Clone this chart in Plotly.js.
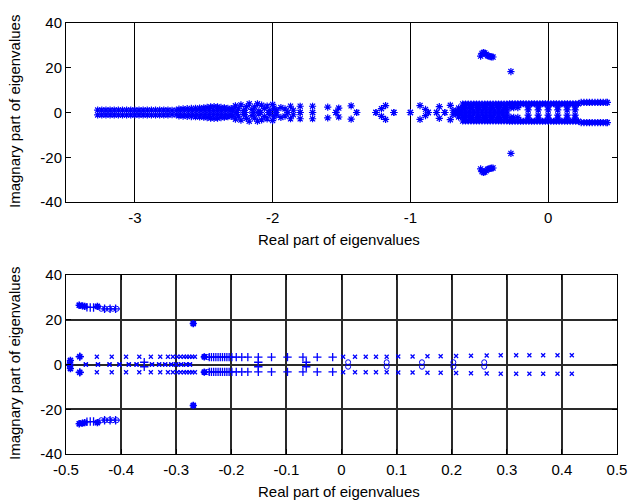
<!DOCTYPE html>
<html>
<head>
<meta charset="utf-8">
<script src="https://cdn.plot.ly/plotly-3.0.1.min.js"></script>
<style>html,body{margin:0;padding:0;background:#fff;}#chart{width:644px;height:504px;}</style>
</head>
<body>
<div id="chart"></div>
<script>
// ---------- Top panel: eigenvalue loci (real part, |imag part|) ----------
const leftRe = [-3.27,-3.24,-3.21,-3.18,-3.15,-3.12,-3.09,-3.06,-3.03,-3.00,-2.97,-2.94,-2.91,-2.88,-2.85,-2.82,-2.79,-2.76,-2.73,-2.70,-2.67,-2.64,-2.61,-2.58,-2.55,-2.52,-2.49,-2.46,-2.43,-2.40,-2.37,-2.34,-2.31];
const leftIm = [1.1,1.1,1.1,1.1,1.1,1.1,1.1,1.1,1.1,1.1,1.1,1.1,1.1,1.1,1.1,1.1,1.1,1.1,1.0,1.0,1.0,1.0,0.9,0.9,0.9,0.9,0.8,0.8,0.8,0.8,0.8,0.9,1.0];
const fanRe = [-2.68,-2.65,-2.62,-2.59,-2.56,-2.53,-2.50,-2.475,-2.45,-2.425,-2.40,-2.375,-2.35,-2.325,-2.30];
const fanIm = [1.5,1.6,1.7,1.8,1.9,2.0,2.1,2.3,2.5,2.6,2.5,2.3,2.1,1.9,1.7];
const clusterRe = [-2.29,-2.27,-2.25,-2.23,-2.21,-2.19,-2.17,-2.15,-2.13,-2.11,-2.10,-2.08,-2.06,-2.04,-2.02,-2.00,-1.99,-1.97,-2.26,-2.20,-2.14,-2.09,-2.03,-1.98];
const clusterIm = [1.2,3.0,1.6,3.4,0.9,2.6,3.9,1.4,2.5,3.9,0.6,3.3,1.8,2.9,0.8,3.6,2.0,1.0,0,0,0,0,0,0];
const scatterRe = [-1.94,-1.91,-1.89,-1.87,-1.85,-1.80,-1.80,-1.71,-1.71,-1.60,-1.54,-1.52,-1.43,-1.39,-1.25,-1.21,-1.18,-1.12,-1.00,-0.93,-0.89,-0.87,-0.81,-0.79,-0.75,-0.71,-0.69,-0.67,-0.65,-0.64];
const scatterIm = [2.2,1.6,0,2.8,1.0,2.8,0,2.8,0,2.4,0,2.0,3.0,0,0,1.7,3.1,0,0,3.1,1.4,0,0,2.6,0,3.2,1.0,0,2.0,0.9];
const bandRe = [-0.62,-0.60,-0.58,-0.56,-0.54,-0.52,-0.50,-0.48,-0.46,-0.44,-0.42,-0.40,-0.38,-0.36,-0.34,-0.32,-0.30,-0.28,-0.26,-0.24,-0.22,-0.20,-0.18,-0.16,-0.14,-0.12,-0.10,-0.08,-0.06,-0.04,-0.02,0.00,0.02,0.04,0.06,0.08,0.10,0.12,0.14,0.16,0.18,0.20,0.22,0.24,0.26,0.28,0.30,0.32,0.34,0.36,0.38,0.40,0.42,0.43];
const bandIm = [3.8,3.8,3.8,3.8,3.8,3.8,3.8,3.8,3.8,3.8,3.8,3.8,3.8,3.8,3.8,3.8,3.8,3.9,3.9,3.9,3.9,3.9,3.9,3.9,3.9,3.9,3.9,3.9,3.9,3.9,3.9,3.9,3.9,3.9,3.9,3.9,3.9,3.9,3.9,3.9,3.9,3.9,3.9,4.5,4.5,4.5,4.5,4.5,4.5,4.5,4.5,4.5,4.5,4.5];
const band2Re = [-0.62,-0.60,-0.57,-0.55,-0.52,-0.50,-0.47,-0.45,-0.42,-0.40,-0.37,-0.35,-0.32,-0.30,-0.27,-0.25,-0.22];
const band2Im = [2.2,2.2,2.2,2.2,2.2,2.2,2.2,2.2,2.2,2.2,2.2,2.2,2.2,2.2,2.2,2.2,2.2];
const band3Re = [-0.66,-0.63,-0.60,-0.57,-0.54,-0.51,-0.48,-0.45,-0.42,-0.39,-0.36,-0.33,-0.30];
const band3Im = [0.7,0.7,0.7,0.7,0.7,0.7,0.7,0.7,0.7,0.7,0.7,0.7,0.7];
const arrowRe = [-0.145,-0.145,-0.072,-0.072,0.0,0.0,0.07,0.07,0.138,0.138,0.196,0.196];
const arrowIm = [1.2,2.5,1.2,2.5,1.2,2.5,1.2,2.5,1.2,2.5,1.2,2.5];
const spikeRe = [-0.49,-0.48,-0.47,-0.46,-0.45,-0.44,-0.43,-0.42,-0.41,-0.40,-0.27];
const spikeIm = [25.2,26.4,26.8,26.6,26.0,25.4,25.2,25.0,24.9,24.8,18.3];

// ---------- Bottom panel: zoom on [-0.5, 0.5] ----------
const bxRe = [-0.444,-0.417,-0.391,-0.367,-0.346,-0.329,-0.315,-0.306,-0.298,-0.292,-0.286,-0.281,-0.276,-0.271,-0.266,
              -0.464,-0.442,-0.421,-0.403,-0.386,-0.372,-0.344,-0.331,-0.320,-0.309,-0.300,-0.291,-0.282,-0.275,
              0.003,0.0245,0.044,0.0626,0.082,0.103,0.129,0.156,0.180,0.208,0.235,0.2635,0.289,0.317,0.341,0.366,0.392,0.418];
const bxIm = [3.5,3.5,3.5,3.5,3.5,3.5,3.5,3.5,3.5,3.5,3.5,3.5,3.5,3.5,3.5,
              0,0,0,0,0,0,0,0,0,0,0,0,0,0,
              3.5,3.5,3.5,3.5,3.5,3.6,3.6,3.7,3.7,3.8,3.9,4.0,4.1,4.1,4.1,4.1,4.1,4.1];
const bpRe = [-0.475,-0.240,-0.236,-0.232,-0.228,-0.224,-0.220,-0.216,-0.212,-0.208,-0.204,-0.199,-0.191,-0.181,-0.170,-0.151,-0.127,-0.098,-0.070,-0.044,-0.016,
              -0.358,-0.151,-0.064,-0.462,-0.456,-0.450,-0.430,-0.420,-0.410];
const bpIm = [3.5,3.3,3.3,3.3,3.3,3.3,3.3,3.3,3.3,3.3,3.3,3.3,3.3,3.3,3.3,3.3,3.3,3.3,3.3,3.3,3.3,
              1.0,1.0,1.0,25.6,25.5,25.5,24.9,24.9,24.9];
const boRe = [0.012,0.082,0.146,0.203,0.259,-0.493,-0.249,-0.243,-0.475,-0.442,-0.436,-0.429,-0.422,-0.415,-0.408,-0.269];
const boIm = [1.0,1.0,1.0,1.0,1.0,1.2,3.5,3.3,26.2,25.8,24.9,24.9,24.9,24.9,24.9,18.3];
const bsRe = [-0.493,-0.492,-0.476,-0.470,-0.466,-0.269,-0.475,-0.249,-0.443];
const bsIm = [0,1.8,26.5,26.2,26.0,18.3,3.5,3.4,26.0];

// ---------- Ticks ----------
const topXTicks = [-3,-2,-1,0];
const topXText = ['-3','-2','-1','0'];
const yTicks = [-40,-20,0,20,40];
const yText = ['-40','-20','0','20','40'];
const botXTicks = [-0.5,-0.4,-0.3,-0.2,-0.1,0,0.1,0.2,0.3,0.4,0.5];
const botXText = ['-0.5','-0.4','-0.3','-0.2','-0.1','0','0.1','0.2','0.3','0.4','0.5'];

const BLUE = '#0000ff';
function conj(re, im, xa, ya, marker) {
  return {
    type: 'scatter', mode: 'markers', xaxis: xa, yaxis: ya,
    x: re.concat(re), y: im.concat(im.map(v => -v)),
    marker: marker, hoverinfo: 'skip'
  };
}
const topMarker = {symbol: 'asterisk-open', size: 6, color: BLUE, line: {color: BLUE, width: 1.2}};
const traces = [
  conj(leftRe, leftIm, 'x', 'y', topMarker),
  conj(fanRe, fanIm, 'x', 'y', topMarker),
  conj(clusterRe, clusterIm, 'x', 'y', topMarker),
  conj(scatterRe, scatterIm, 'x', 'y', topMarker),
  conj(bandRe, bandIm, 'x', 'y', topMarker),
  conj(band2Re, band2Im, 'x', 'y', topMarker),
  conj(band3Re, band3Im, 'x', 'y', topMarker),
  conj(arrowRe, arrowIm, 'x', 'y', topMarker),
  conj(spikeRe, spikeIm, 'x', 'y', topMarker),
  conj(bxRe, bxIm, 'x2', 'y2', {symbol: 'x-thin-open', size: 4, color: BLUE, line: {color: BLUE, width: 1.3}}),
  conj(bpRe, bpIm, 'x2', 'y2', {symbol: 'cross-thin-open', size: 6, color: BLUE, line: {color: BLUE, width: 1.3}}),
  conj(boRe, boIm, 'x2', 'y2', {symbol: 'circle-open', size: 5, color: BLUE, line: {color: BLUE, width: 1}}),
  conj(bsRe, bsIm, 'x2', 'y2', {symbol: 'asterisk-open', size: 6, color: BLUE, line: {color: BLUE, width: 1.6}})
];

const W = 644, H = 504;
const xDom = [66 / W, 617 / W];
const axBase = {
  showline: true, linecolor: 'black', linewidth: 1, mirror: 'ticks',
  ticks: 'inside', ticklen: 5, tickcolor: 'black', tickwidth: 1,
  zeroline: false, fixedrange: true, tickfont: {size: 15, color: 'black'}
};
const layout = {
  width: W, height: H, margin: {l: 0, r: 0, t: 0, b: 0},
  paper_bgcolor: 'white', plot_bgcolor: 'white', showlegend: false,
  font: {family: 'Liberation Sans, Arial, sans-serif', size: 15, color: 'black'},
  xaxis: Object.assign({}, axBase, {domain: xDom, anchor: 'y', range: [-3.5, 0.5], tickvals: topXTicks, ticktext: topXText, showgrid: true, gridcolor: 'black', gridwidth: 1, ticklabelstandoff: 2}),
  yaxis: Object.assign({}, axBase, {domain: [1 - 202 / H, 1 - 23 / H], anchor: 'x', range: [-40, 40], tickvals: yTicks, ticktext: yText, showgrid: false}),
  xaxis2: Object.assign({}, axBase, {domain: xDom, anchor: 'y2', range: [-0.5, 0.5], tickvals: botXTicks, ticktext: botXText, showgrid: true, gridcolor: '#2a2a2a', gridwidth: 2, ticklabelstandoff: 2}),
  yaxis2: Object.assign({}, axBase, {domain: [1 - 454 / H, 1 - 275 / H], anchor: 'x2', range: [-40, 40], tickvals: yTicks, ticktext: yText, showgrid: true, gridcolor: '#2a2a2a', gridwidth: 2}),
  annotations: [
    {text: 'Real part of eigenvalues', xref: 'paper', yref: 'paper', x: 339 / W, y: 1 - 239 / H, showarrow: false, xanchor: 'center', yanchor: 'middle', font: {size: 15}},
    {text: 'Real part of eigenvalues', xref: 'paper', yref: 'paper', x: 339 / W, y: 1 - 491 / H, showarrow: false, xanchor: 'center', yanchor: 'middle', font: {size: 15}},
    {text: 'Imagnary part of eigenvalues', xref: 'paper', yref: 'paper', x: 14 / W, y: 1 - 112 / H, showarrow: false, xanchor: 'center', yanchor: 'middle', textangle: -90, font: {size: 15}},
    {text: 'Imagnary part of eigenvalues', xref: 'paper', yref: 'paper', x: 14 / W, y: 1 - 364 / H, showarrow: false, xanchor: 'center', yanchor: 'middle', textangle: -90, font: {size: 15}}
  ]
};
Plotly.newPlot('chart', traces, layout, {staticPlot: true, displayModeBar: false});
</script>
</body>
</html>
